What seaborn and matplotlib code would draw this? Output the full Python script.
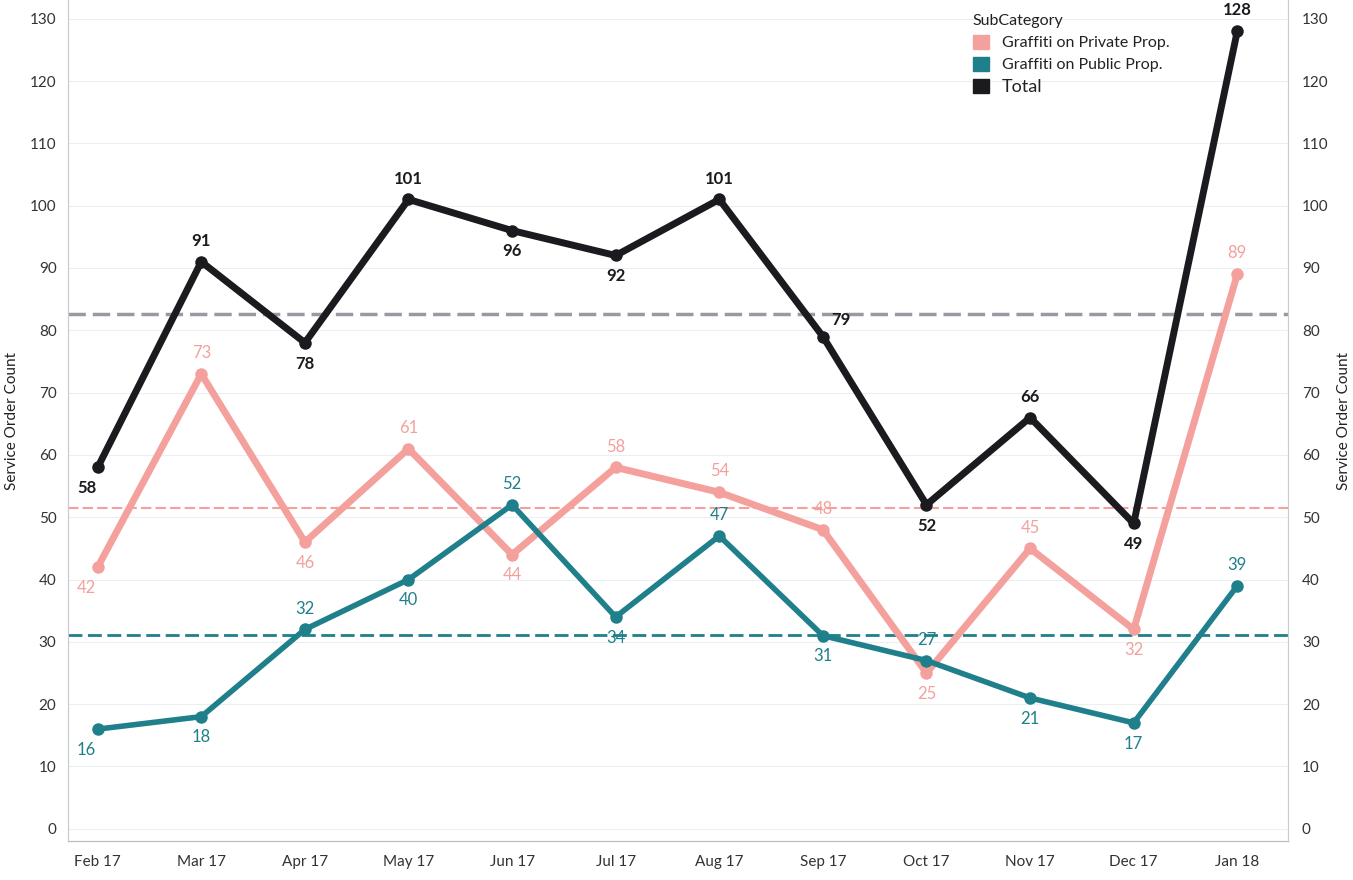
import numpy as np
import pandas as pd
import matplotlib
matplotlib.use("Agg")
import matplotlib.pyplot as plt
from matplotlib.patches import Patch
import seaborn as sns

# --- data ---
months = ["Feb 17", "Mar 17", "Apr 17", "May 17", "Jun 17", "Jul 17",
          "Aug 17", "Sep 17", "Oct 17", "Nov 17", "Dec 17", "Jan 18"]
private_prop = [42, 73, 46, 61, 44, 58, 54, 48, 25, 45, 32, 89]
public_prop = [16, 18, 32, 40, 52, 34, 47, 31, 27, 21, 17, 39]
total = [58, 91, 78, 101, 96, 92, 101, 79, 52, 66, 49, 128]
series_names = ["Graffiti on Private Prop.", "Graffiti on Public Prop.", "Total"]

# label placement: +1 above the point, -1 below, 0 upper right
pos_private = [-1, 1, -1, 1, -1, 1, 1, 1, -1, 1, -1, 1]
pos_public = [-1, -1, 1, -1, 1, -1, 1, -1, 1, -1, -1, 1]
pos_total = [-1, 1, -1, 1, -1, -1, 1, 0, -1, 1, -1, 1]

COL_PRIV = "#f4a19d"
COL_PUB = "#1f7f8a"
COL_TOT = "#1b1b1f"
COL_AVG = "#9a98a2"

sns.set_style("white")
plt.rcParams["font.family"] = ["Lato", "DejaVu Sans"]

x = np.arange(len(months))
df = pd.DataFrame({
    "x": np.tile(x, 3),
    "count": private_prop + public_prop + total,
    "sub": np.repeat(series_names, len(months)),
})

fig = plt.figure(figsize=(13.53, 8.8), dpi=100)
ax = fig.add_axes([0.05, 0.044, 0.902, 0.956])

ax.set_ylim(-2, 133)
ax.set_xlim(-0.29, 11.49)
for v in range(0, 131, 10):
    ax.axhline(v, color="#eceef2", lw=0.8, zorder=0)

# average reference lines
ax.axhline(np.mean(total), color=COL_AVG, ls=(0, (5, 2)), lw=2.5, zorder=1)
ax.axhline(np.mean(private_prop), color=COL_PRIV, ls=(0, (5, 2)), lw=1.5, zorder=1)
ax.axhline(np.mean(public_prop), color=COL_PUB, ls=(0, (5, 2)), lw=2.0, zorder=1)

widths = {series_names[0]: 5, series_names[1]: 4, series_names[2]: 5}
palette = {series_names[0]: COL_PRIV, series_names[1]: COL_PUB, series_names[2]: COL_TOT}
for name in series_names:
    sub = df[df["sub"] == name]
    sns.lineplot(data=sub, x="x", y="count", color=palette[name], lw=widths[name],
                 marker="o", markersize=9, markeredgewidth=0, ax=ax, zorder=3,
                 legend=False)

def annotate(vals, places, color, weight):
    for i, (v, p) in enumerate(zip(vals, places)):
        if p == 0:
            ax.annotate(str(v), (i, v), xytext=(6, 12), textcoords="offset points",
                        ha="left", va="center", color=color, fontsize=12, fontweight=weight)
        else:
            dx = -8 if i == 0 else 0
            ax.annotate(str(v), (i, v), xytext=(dx, 15 * p), textcoords="offset points",
                        ha="center", va="center", color=color, fontsize=12, fontweight=weight)

annotate(private_prop, pos_private, COL_PRIV, "normal")
annotate(public_prop, pos_public, COL_PUB, "normal")
annotate(total, pos_total, COL_TOT, "bold")

ax.set_xticks(x)
ax.set_xticklabels(months, fontsize=11, color="#333333")
ax.set_yticks(range(0, 131, 10))
ax.tick_params(axis="y", labelsize=11, colors="#333333", length=0, pad=8)
ax.tick_params(axis="x", length=0, pad=10)
ax.set_xlabel("")
ax.set_ylabel("Service Order Count", fontsize=11, color="#222222", labelpad=8)

ax2 = ax.twinx()
ax2.set_ylim(ax.get_ylim())
ax2.set_yticks(range(0, 131, 10))
ax2.tick_params(axis="y", labelsize=11, colors="#333333", length=0, pad=10)
ax2.set_ylabel("Service Order Count", fontsize=11, color="#222222", labelpad=6)

for a in (ax, ax2):
    a.spines["top"].set_visible(False)
    a.spines["left"].set_color("#c8ccd4")
    a.spines["right"].set_color("#c8ccd4")
    a.spines["bottom"].set_color("#b8bcc4")

handles = [Patch(color=palette[n]) for n in series_names]
leg = ax.legend(handles, series_names, title="SubCategory", loc="upper left",
                bbox_to_anchor=(0.73, 1.0), frameon=False, fontsize=11.5,
                title_fontsize=11.5, handlelength=1.0, handleheight=1.0,
                labelspacing=0.4, alignment="left")
leg.get_title().set_color("#222222")
for t, n in zip(leg.get_texts(), series_names):
    t.set_color("#222222")
    if n == "Total":
        t.set_fontsize(13)

fig.savefig("out.png", dpi=100)
